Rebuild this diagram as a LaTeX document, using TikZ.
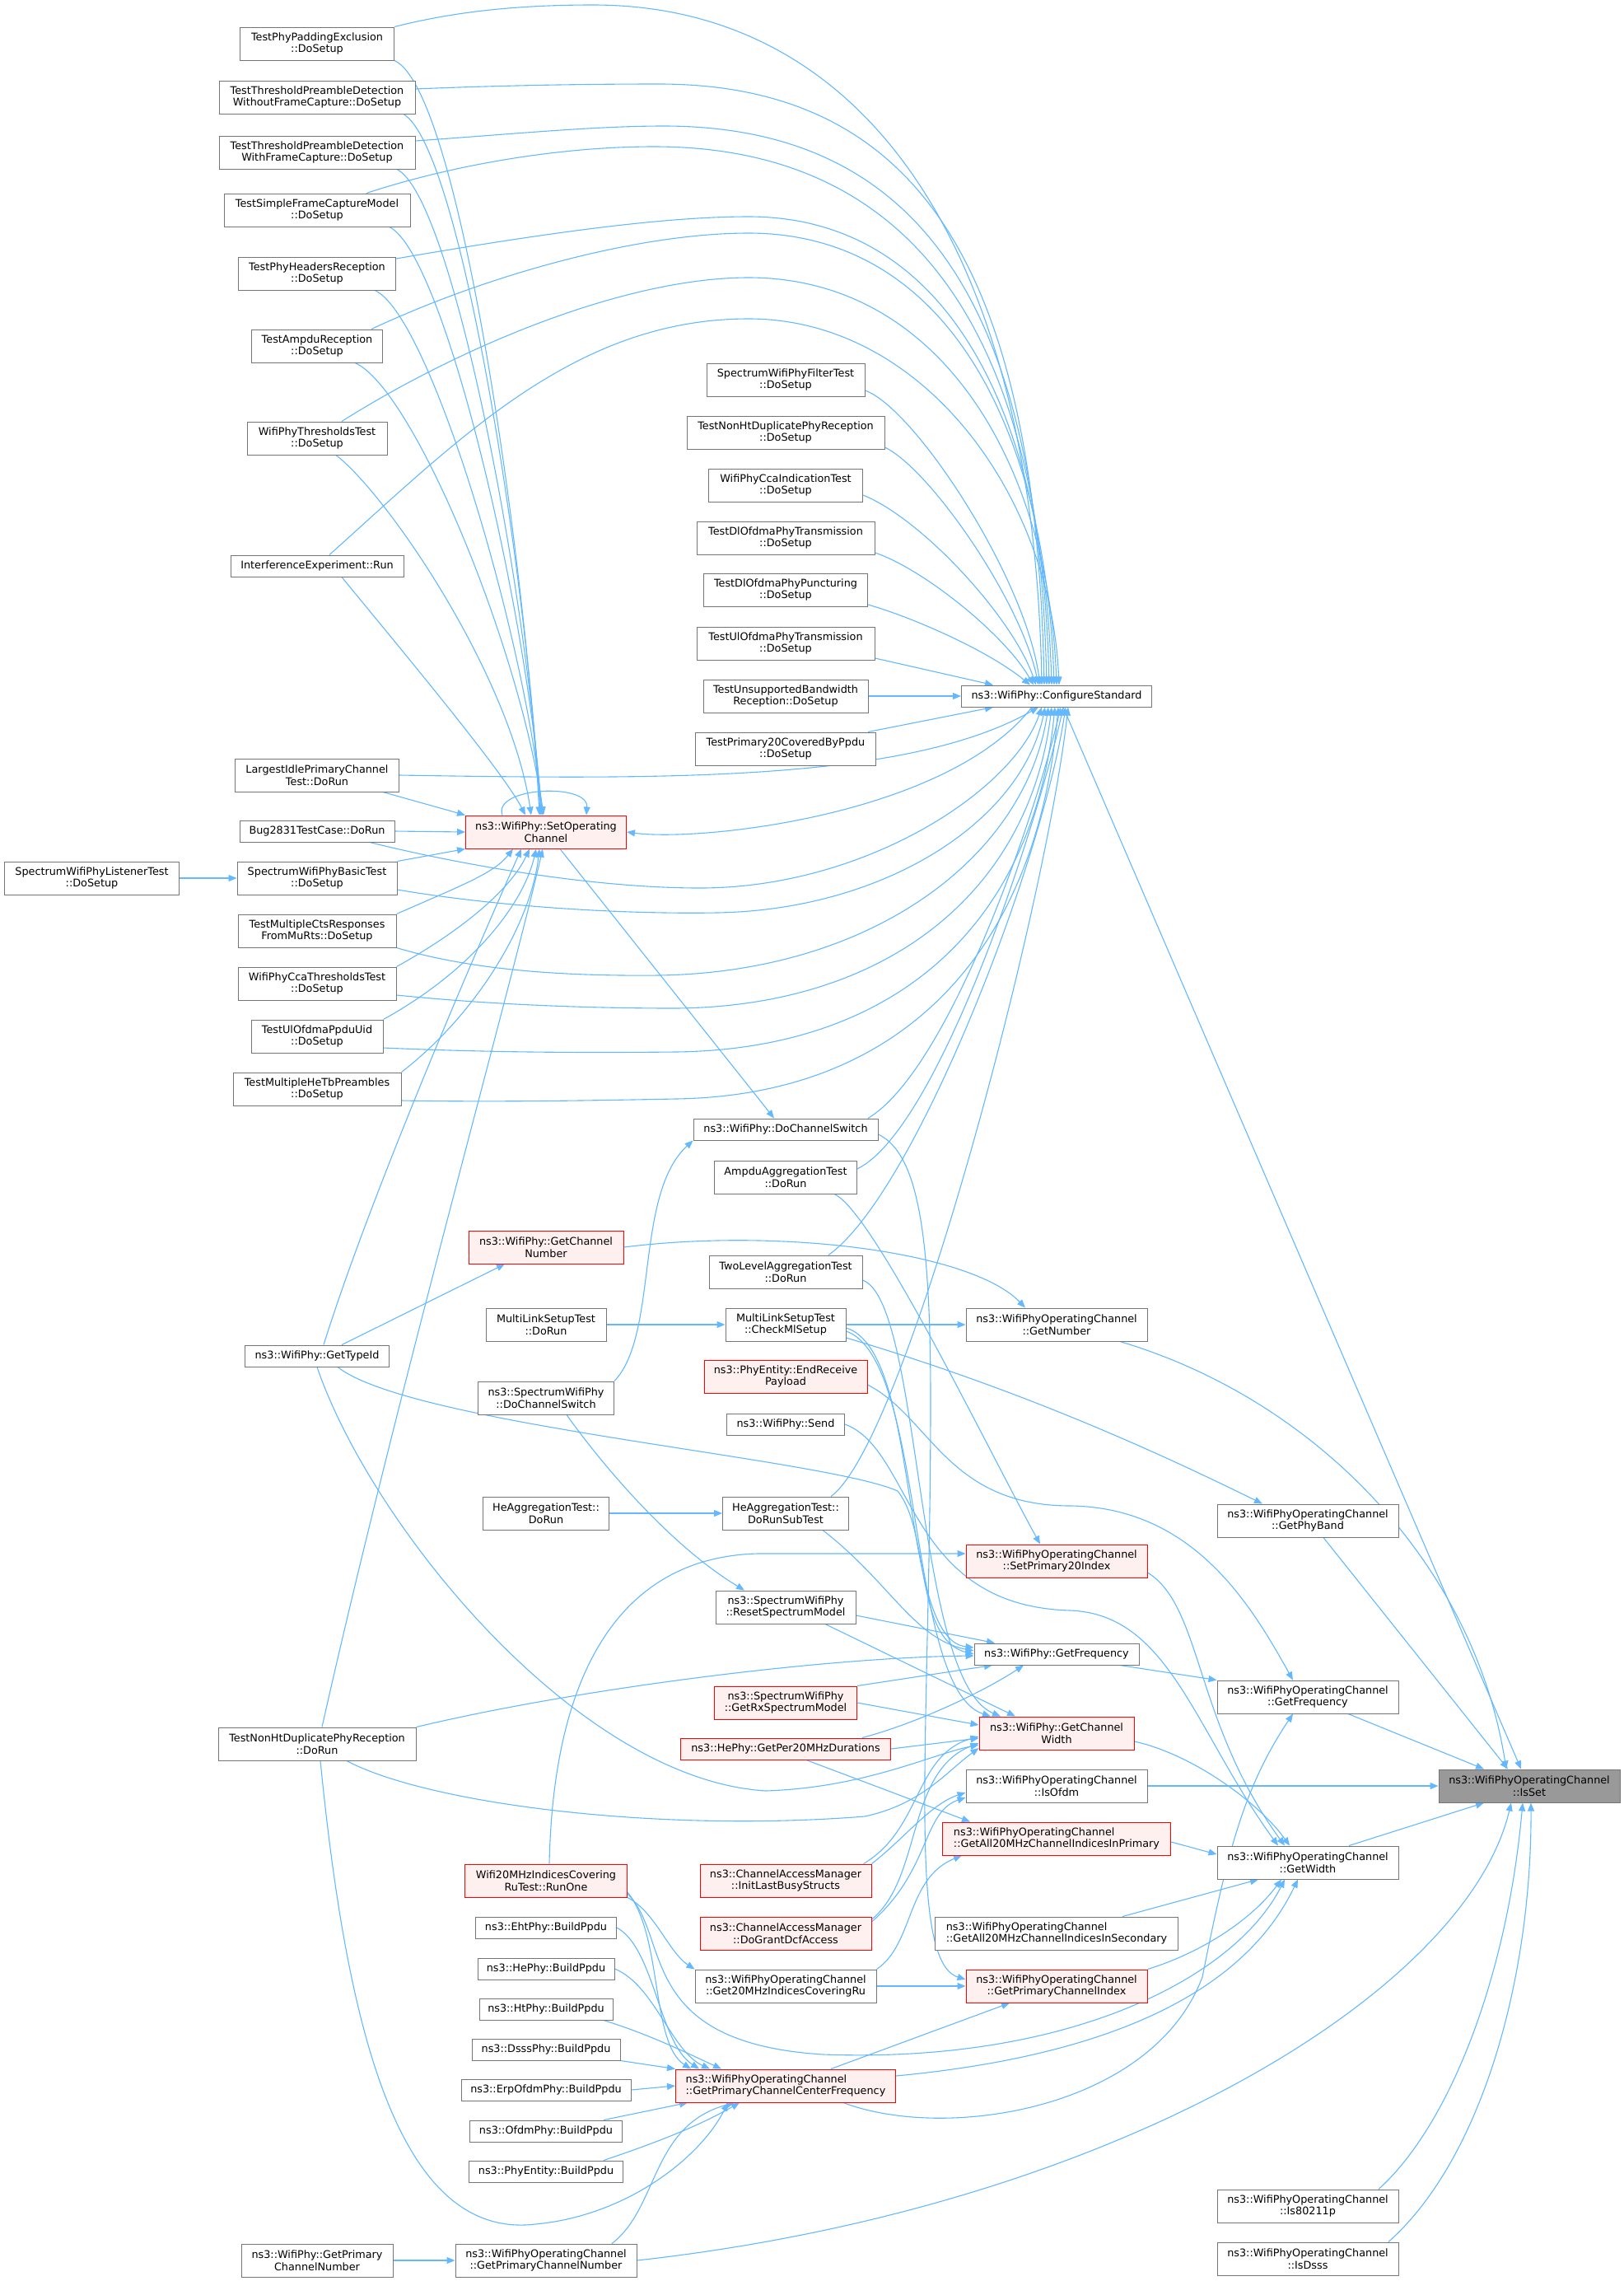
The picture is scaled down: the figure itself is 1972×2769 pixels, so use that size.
\documentclass[tikz,border=0pt]{standalone}
\usepackage{fontspec}
\setmainfont{DejaVu Sans}
\usetikzlibrary{arrows.meta}
\definecolor{edgeblue}{HTML}{63B8FF}
\definecolor{boxgray}{HTML}{757575}
\definecolor{redfill}{HTML}{FFF0F0}
\definecolor{selfill}{HTML}{999999}
\pgfdeclarelayer{bg}
\pgfsetlayers{bg,main}
\tikzset{
  fnbox/.style={draw=boxgray, line width=1pt, fill=white, align=center, minimum height=40pt, inner sep=2pt, font=\fontsize{12.8}{14.7}\selectfont},
  line1/.style={minimum height=26pt},
  fnred/.style={fnbox, draw=red, fill=redfill},
  fnsel/.style={fnbox, fill=selfill},
  call/.style={draw=edgeblue, line width=1.1pt, -{Triangle[length=10pt,width=8pt]}},
}
\begin{document}
\begin{tikzpicture}[x=1pt,y=-1pt]
\useasboundingbox (0,0) rectangle (1972,2769);
% column 1
\node[fnbox, minimum width=187pt] (pad) at (385,53) {TestPhyPaddingExclusion\\::DoSetup};
\node[fnbox, minimum width=238pt] (tpdwo) at (385,118) {TestThresholdPreambleDetection\\WithoutFrameCapture::DoSetup};
\node[fnbox, minimum width=238pt] (tpdw) at (385,185) {TestThresholdPreambleDetection\\WithFrameCapture::DoSetup};
\node[fnbox, minimum width=226pt] (sfc) at (385,255) {TestSimpleFrameCaptureModel\\::DoSetup};
\node[fnbox, minimum width=191pt] (phr) at (385,332) {TestPhyHeadersReception\\::DoSetup};
\node[fnbox, minimum width=159pt] (ampr) at (385,420) {TestAmpduReception\\::DoSetup};
\node[fnbox, minimum width=170pt] (thr) at (385,532) {WifiPhyThresholdsTest\\::DoSetup};
\node[fnbox, line1, minimum width=210pt] (intf) at (385,687) {InterferenceExperiment::Run};
\node[fnbox, minimum width=199pt] (lip) at (385,941) {LargestIdlePrimaryChannel\\Test::DoRun};
\node[fnbox, line1, minimum width=188pt] (bug) at (385,1009) {Bug2831TestCase::DoRun};
\node[fnbox, minimum width=212pt] (listener) at (111.5,1066) {SpectrumWifiPhyListenerTest\\::DoSetup};
\node[fnbox, minimum width=194pt] (basic) at (385,1066) {SpectrumWifiPhyBasicTest\\::DoSetup};
\node[fnbox, minimum width=192pt] (mcts) at (385,1130) {TestMultipleCtsResponses\\FromMuRts::DoSetup};
\node[fnbox, minimum width=192pt] (ccath) at (385,1194) {WifiPhyCcaThresholdsTest\\::DoSetup};
\node[fnbox, minimum width=160pt] (ppduid) at (385,1258) {TestUlOfdmaPpduUid\\::DoSetup};
\node[fnbox, minimum width=204pt] (hetb) at (385,1322) {TestMultipleHeTbPreambles\\::DoSetup};
\node[fnbox, line1, minimum width=175pt] (typeid) at (385,1646) {ns3::WifiPhy::GetTypeId};
\node[fnbox, minimum width=240pt] (nonhtrun) at (385,2117) {TestNonHtDuplicatePhyReception\\::DoRun};
\node[fnbox, minimum width=184pt] (phychnum) at (385,2744) {ns3::WifiPhy::GetPrimary\\ChannelNumber};
% column 2
\node[fnred, minimum width=195pt] (setop) at (663,1010) {ns3::WifiPhy::SetOperating\\Channel};
\node[fnred, minimum width=188pt] (getchnum) at (663,1514) {ns3::WifiPhy::GetChannel\\Number};
\node[fnbox, minimum width=146pt] (mlsrun) at (663,1608) {MultiLinkSetupTest\\::DoRun};
\node[fnbox, minimum width=165pt] (specsw) at (663,1697) {ns3::SpectrumWifiPhy\\::DoChannelSwitch};
\node[fnbox, minimum width=153pt] (herun) at (663,1837) {HeAggregationTest::\\DoRun};
\node[fnred, minimum width=197pt] (runone) at (663,2283) {Wifi20MHzIndicesCovering\\RuTest::RunOne};
\node[fnbox, line1, minimum width=171pt] (eht) at (663,2340) {ns3::EhtPhy::BuildPpdu};
\node[fnbox, line1, minimum width=166pt] (he) at (663,2390) {ns3::HePhy::BuildPpdu};
\node[fnbox, line1, minimum width=162pt] (ht) at (663,2439) {ns3::HtPhy::BuildPpdu};
\node[fnbox, line1, minimum width=180pt] (dsss) at (663,2488) {ns3::DsssPhy::BuildPpdu};
\node[fnbox, line1, minimum width=206pt] (erp) at (663,2537) {ns3::ErpOfdmPhy::BuildPpdu};
\node[fnbox, line1, minimum width=185pt] (ofdm) at (663,2587) {ns3::OfdmPhy::BuildPpdu};
\node[fnbox, line1, minimum width=187pt] (phyent) at (663,2636) {ns3::PhyEntity::BuildPpdu};
\node[fnbox, minimum width=220pt] (ocpchnum) at (663,2744) {ns3::WifiPhyOperatingChannel\\::GetPrimaryChannelNumber};
% column 3
\node[fnbox, minimum width=192pt] (filt) at (954,461) {SpectrumWifiPhyFilterTest\\::DoSetup};
\node[fnbox, minimum width=240pt] (nonhtset) at (954,525) {TestNonHtDuplicatePhyReception\\::DoSetup};
\node[fnbox, minimum width=187pt] (ccaind) at (954,589) {WifiPhyCcaIndicationTest\\::DoSetup};
\node[fnbox, minimum width=216pt] (dltx) at (954,653) {TestDlOfdmaPhyTransmission\\::DoSetup};
\node[fnbox, minimum width=199pt] (dlpunc) at (954,716) {TestDlOfdmaPhyPuncturing\\::DoSetup};
\node[fnbox, minimum width=216pt] (ultx) at (954,781) {TestUlOfdmaPhyTransmission\\::DoSetup};
\node[fnbox, minimum width=200pt] (unsup) at (954,845) {TestUnsupportedBandwidth\\Reception::DoSetup};
\node[fnbox, minimum width=219pt] (p20) at (954,909) {TestPrimary20CoveredByPpdu\\::DoSetup};
\node[fnbox, line1, minimum width=224pt] (dosw) at (954,1371) {ns3::WifiPhy::DoChannelSwitch};
\node[fnbox, minimum width=173pt] (ampdu) at (954,1429) {AmpduAggregationTest\\::DoRun};
\node[fnbox, minimum width=186pt] (twolev) at (954,1544) {TwoLevelAggregationTest\\::DoRun};
\node[fnbox, minimum width=146pt] (mlscheck) at (954,1608) {MultiLinkSetupTest\\::CheckMlSetup};
\node[fnred, minimum width=198pt] (endrx) at (954,1671) {ns3::PhyEntity::EndReceive\\Payload};
\node[fnbox, line1, minimum width=143pt] (send) at (954,1729) {ns3::WifiPhy::Send};
\node[fnbox, minimum width=153pt] (subtest) at (954,1837) {HeAggregationTest::\\DoRunSubTest};
\node[fnbox, minimum width=170pt] (reset) at (954,1951) {ns3::SpectrumWifiPhy\\::ResetSpectrumModel};
\node[fnred, minimum width=173pt] (rxsm) at (954,2067) {ns3::SpectrumWifiPhy\\::GetRxSpectrumModel};
\node[fnred, line1, minimum width=255pt] (per20) at (954,2123) {ns3::HePhy::GetPer20MHzDurations};
\node[fnred, minimum width=208pt] (initbusy) at (954,2283) {ns3::ChannelAccessManager\\::InitLastBusyStructs};
\node[fnred, minimum width=208pt] (grant) at (954,2347) {ns3::ChannelAccessManager\\::DoGrantDcfAccess};
\node[fnbox, minimum width=220pt] (cover) at (954,2411) {ns3::WifiPhyOperatingChannel\\::Get20MHzIndicesCoveringRu};
\node[fnred, align=left, minimum width=267pt] (pccf) at (954,2532) {ns3::WifiPhyOperatingChannel\\::GetPrimaryChannelCenterFrequency};
% column 4
\node[fnbox, line1, minimum width=231pt] (cfg) at (1283,845) {ns3::WifiPhy::ConfigureStandard};
\node[fnbox, minimum width=220pt] (getnum) at (1283,1608) {ns3::WifiPhyOperatingChannel\\::GetNumber};
\node[fnred, minimum width=220pt] (setp20) at (1283,1895) {ns3::WifiPhyOperatingChannel\\::SetPrimary20Index};
\node[fnbox, line1, minimum width=200pt] (phyfreq) at (1283,2008) {ns3::WifiPhy::GetFrequency};
\node[fnred, minimum width=188pt] (chwidth) at (1283,2104) {ns3::WifiPhy::GetChannel\\Width};
\node[fnbox, minimum width=220pt] (isofdm) at (1283,2168) {ns3::WifiPhyOperatingChannel\\::IsOfdm};
\node[fnred, align=left, minimum width=277pt] (all20p) at (1283,2232) {ns3::WifiPhyOperatingChannel\\::GetAll20MHzChannelIndicesInPrimary};
\node[fnbox, align=left, minimum width=295pt] (all20s) at (1283,2347) {ns3::WifiPhyOperatingChannel\\::GetAll20MHzChannelIndicesInSecondary};
\node[fnred, minimum width=220pt] (pidx) at (1283,2411) {ns3::WifiPhyOperatingChannel\\::GetPrimaryChannelIndex};
% column 5
\node[fnbox, minimum width=220pt] (phyband) at (1588,1846) {ns3::WifiPhyOperatingChannel\\::GetPhyBand};
\node[fnbox, minimum width=220pt] (ocfreq) at (1588,2060) {ns3::WifiPhyOperatingChannel\\::GetFrequency};
\node[fnbox, minimum width=220pt] (width) at (1588,2261) {ns3::WifiPhyOperatingChannel\\::GetWidth};
\node[fnbox, minimum width=220pt] (is80211p) at (1588,2678) {ns3::WifiPhyOperatingChannel\\::Is80211p};
\node[fnbox, minimum width=220pt] (isdsss) at (1588,2742) {ns3::WifiPhyOperatingChannel\\::IsDsss};
\node[fnsel, minimum width=220pt] (isset) at (1857,2168) {ns3::WifiPhyOperatingChannel\\::IsSet};

\begin{pgfonlayer}{bg}
% into ConfigureStandard, over the top
\draw[call] (pad.north east) .. controls (560,12) and (640,6) .. (720,6) .. controls (1050,6) and (1255,300) .. ([xshift=-18pt]cfg.north);
\draw[call] ([yshift=10pt]tpdwo.east) .. controls (600,104) and (700,102) .. (800,102) .. controls (1130,102) and (1258,350) .. ([xshift=-15pt]cfg.north);
\draw[call] ([yshift=14pt]tpdw.east) .. controls (620,163) and (720,153) .. (806,153) .. controls (1136,153) and (1261,400) .. ([xshift=-12pt]cfg.north);
\draw[call] ([xshift=60pt]sfc.north) .. controls (550,200) and (680,178) .. (794,178) .. controls (1120,178) and (1264,420) .. ([xshift=-9pt]cfg.north);
\draw[call] ([yshift=18pt]phr.east) .. controls (650,285) and (800,263) .. (909,263) .. controls (1150,263) and (1267,500) .. ([xshift=-6pt]cfg.north);
\draw[call] ([xshift=66pt]ampr.north) .. controls (600,330) and (780,283) .. (909,283) .. controls (1150,283) and (1270,520) .. ([xshift=-3pt]cfg.north);
\draw[call] ([xshift=30pt]thr.north) .. controls (560,420) and (760,337) .. (909,337) .. controls (1140,337) and (1273,560) .. (cfg.north);
\draw[call] ([xshift=15pt]intf.north) .. controls (560,530) and (700,387) .. (909,387) .. controls (1120,387) and (1276,600) .. ([xshift=3pt]cfg.north);
\draw[call] ([yshift=-13pt]filt.east) .. controls (1110,495) and (1245,700) .. ([xshift=-20pt]cfg.north);
\draw[call] ([yshift=-18pt]nonhtset.east) .. controls (1130,570) and (1240,730) .. ([xshift=-22pt]cfg.north);
\draw[call] ([yshift=-12pt]ccaind.east) .. controls (1120,630) and (1230,750) .. ([xshift=-25pt]cfg.north);
\draw[call] ([yshift=-18pt]dltx.east) .. controls (1120,690) and (1220,770) .. ([xshift=-28pt]cfg.north);
\draw[call] ([yshift=-18pt]dlpunc.east) .. controls (1110,750) and (1200,790) .. ([xshift=-32pt]cfg.north);
\draw[call] ([yshift=-18pt]ultx.east) -- ([xshift=-77pt]cfg.north);
\draw[call] (unsup.east) -- (cfg.west);
\draw[call] ([xshift=100pt]p20.north) -- ([xshift=-77pt]cfg.south);
% into ConfigureStandard, from below
\draw[call] (lip.east) .. controls (800,946) and (1100,950) .. ([xshift=-22pt]cfg.south);
\draw[call] ([xshift=64pt]bug.south) .. controls (560,1050) and (720,1078) .. (850,1078) .. controls (1050,1078) and (1230,960) .. ([xshift=-18pt]cfg.south);
\draw[call] ([yshift=-14pt]basic.east) .. controls (600,1100) and (750,1110) .. (870,1108) .. controls (1070,1105) and (1240,1000) .. ([xshift=-14pt]cfg.south);
\draw[call] (mcts.south east) .. controls (580,1180) and (700,1185) .. (800,1184) .. controls (1060,1180) and (1245,1040) .. ([xshift=-10pt]cfg.south);
\draw[call] ([yshift=-14pt]ccath.east) .. controls (600,1220) and (720,1224) .. (820,1224) .. controls (1080,1222) and (1250,1080) .. ([xshift=-6pt]cfg.south);
\draw[call] ([yshift=-14pt]ppduid.east) .. controls (600,1278) and (720,1278) .. (820,1277) .. controls (1090,1274) and (1255,1120) .. ([xshift=-2pt]cfg.south);
\draw[call] ([yshift=-14pt]hetb.east) .. controls (600,1338) and (720,1336) .. (820,1334) .. controls (1100,1330) and (1260,1150) .. ([xshift=2pt]cfg.south);
\draw[call] ([xshift=100pt]dosw.north) .. controls (1150,1300) and (1255,1000) .. ([xshift=5pt]cfg.south);
\draw[call] ([yshift=10pt]ampdu.east) .. controls (1140,1370) and (1260,1000) .. ([xshift=8pt]cfg.south);
\draw[call] ([xshift=52pt]twolev.north) .. controls (1110,1450) and (1265,1050) .. ([xshift=11pt]cfg.south);
\draw[call] ([xshift=55pt]subtest.north) .. controls (1100,1750) and (1270,1100) .. ([xshift=14pt]cfg.south);
% into SetOperatingChannel
\draw[call] (pad.south east) .. controls (560,110) and (640,700) .. ([xshift=-8pt]setop.north);
\draw[call] ([xshift=105pt]tpdwo.south) .. controls (560,180) and (640,700) .. ([xshift=-7pt]setop.north);
\draw[call] ([xshift=97pt]tpdw.south) .. controls (550,240) and (640,720) .. ([xshift=-6pt]setop.north);
\draw[call] ([xshift=88pt]sfc.south) .. controls (540,310) and (640,740) .. ([xshift=-5pt]setop.north);
\draw[call] ([xshift=70pt]phr.south) .. controls (520,380) and (635,760) .. ([xshift=-4pt]setop.north);
\draw[call] ([xshift=46pt]ampr.south) .. controls (500,470) and (630,780) .. ([xshift=-3pt]setop.north);
\draw[call] ([xshift=23pt]thr.south) .. controls (470,600) and (620,820) .. ([xshift=-18pt]setop.north);
\draw[call] ([xshift=30pt]intf.south) .. controls (480,780) and (610,935) .. ([xshift=-25pt]setop.north);
\draw[call] ([xshift=80pt]lip.south) -- (setop.north west);
\draw[call] (bug.east) -- (setop.west);
\draw[call] (basic.north east) -- (setop.south west);
\draw[call] (mcts.north east) .. controls (560,1075) and (600,1060) .. ([xshift=-40pt]setop.south);
\draw[call] (ccath.north east) .. controls (560,1130) and (620,1080) .. ([xshift=-20pt]setop.south);
\draw[call] (ppduid.north east) .. controls (570,1180) and (635,1100) .. ([xshift=-12pt]setop.south);
\draw[call] (hetb.north east) .. controls (580,1230) and (645,1120) .. ([xshift=-8pt]setop.south);
\draw[call] ([xshift=8pt]typeid.north) .. controls (450,1450) and (580,1150) .. ([xshift=-30pt]setop.south);
\draw[call] ([xshift=6pt]nonhtrun.north) .. controls (480,1700) and (620,1200) .. ([xshift=-4pt]setop.south);
\draw[call] ([xshift=-30pt]cfg.south) .. controls (1150,990) and (850,1022) .. (setop.east);
\draw[call] ([xshift=-53pt]setop.north) .. controls (598,955) and (715,950) .. ([xshift=49pt]setop.north);
\draw[call] ([xshift=17pt]setop.south) -- ([xshift=-14pt]dosw.north);
% short links
\draw[call] (listener.east) -- (basic.west);
\draw[call] (mlsrun.east) -- (mlscheck.west);
\draw[call] (herun.east) -- (subtest.west);
\draw[call] (phychnum.east) -- (ocpchnum.west);
\draw[call] (specsw.north east) .. controls (800,1620) and (770,1450) .. (dosw.south west);
\draw[call] ([xshift=25pt]specsw.south) .. controls (740,1790) and (820,1880) .. ([xshift=-50pt]reset.north);
\draw[call] (getchnum.east) .. controls (950,1490) and (1180,1520) .. ([xshift=-38pt]getnum.north);
\draw[call] ([xshift=30pt]typeid.north) -- ([xshift=-50pt]getchnum.south);
\draw[call] (typeid.south) .. controls (450,1850) and (700,2160) .. (930,2174) .. controls (1050,2170) and (1130,2130) .. ([yshift=-14pt]chwidth.west);
\draw[call] ([xshift=25pt]typeid.south) .. controls (500,1730) and (1000,1770) .. (1090,1810) .. controls (1130,1860) and (1110,1990) .. (phyfreq.west);
\draw[call] (nonhtrun.north east) .. controls (700,2050) and (1000,2012) .. ([yshift=-2pt]phyfreq.west);
\draw[call] ([xshift=36pt]nonhtrun.south) .. controls (520,2190) and (800,2225) .. (1050,2205) .. controls (1120,2190) and (1150,2150) .. ([yshift=-18pt]chwidth.west);
\draw[call] ([xshift=4pt]nonhtrun.south) .. controls (420,2450) and (480,2720) .. (650,2700) .. controls (760,2690) and (850,2620) .. ([xshift=-70pt]pccf.south);
\draw[call] ([xshift=80pt]ocpchnum.north) .. controls (800,2680) and (790,2580) .. ([xshift=-62pt]pccf.south);
\draw[call] (ocpchnum.east) .. controls (1350,2680) and (1780,2420) .. ([xshift=-22pt]isset.south);
% BuildPpdu callers
\draw[call] (eht.east) .. controls (795,2365) and (800,2480) .. ([xshift=-105pt]pccf.north);
\draw[call] (he.east) .. controls (795,2410) and (815,2490) .. ([xshift=-92pt]pccf.north);
\draw[call] ([xshift=70pt]ht.south) .. controls (790,2470) and (840,2495) .. ([xshift=-78pt]pccf.north);
\draw[call] (dsss.south east) -- (pccf.north west);
\draw[call] (erp.east) -- (pccf.west);
\draw[call] ([xshift=70pt]ofdm.north) -- ([xshift=-119pt]pccf.south);
\draw[call] ([xshift=70pt]phyent.north) .. controls (800,2600) and (850,2580) .. ([xshift=-56pt]pccf.south);
% RunOne
\draw[call] (runone.south east) .. controls (795,2320) and (812,2370) .. (cover.north west);
\draw[call] ([yshift=-14pt]runone.east) .. controls (805,2350) and (790,2480) .. ([xshift=-115pt]pccf.north);
\draw[call] ([yshift=-16pt]runone.east) .. controls (815,2350) and (770,2480) .. (1000,2494) .. controls (1300,2505) and (1500,2400) .. ([xshift=-28pt]width.south);
\draw[call] ([xshift=4pt]runone.north) .. controls (672,2020) and (760,1890) .. (920,1886) -- ([yshift=9pt]setp20.west);
% middle callers
\draw[call] (cover.east) -- (pidx.west);
\draw[call] (cover.north east) .. controls (1110,2360) and (1100,2280) .. ([xshift=-115pt]all20p.south);
\draw[call] ([xshift=25pt]per20.south) -- ([xshift=-105pt]all20p.north);
\draw[call] (per20.east) -- ([yshift=-6pt]chwidth.west);
\draw[call] ([xshift=93pt]per20.north) .. controls (1120,2090) and (1200,2050) .. ([xshift=-40pt]phyfreq.south);
\draw[call] (rxsm.north east) -- ([xshift=-78pt]phyfreq.south);
\draw[call] (rxsm.east) -- ([yshift=10pt]chwidth.west);
\draw[call] ([yshift=-10pt]reset.east) -- ([xshift=-75pt]phyfreq.north);
\draw[call] ([xshift=48pt]reset.south) -- ([xshift=-50pt]chwidth.north);
\draw[call] (initbusy.north east) .. controls (1100,2230) and (1130,2190) .. ([yshift=-8pt]isofdm.west);
\draw[call] ([xshift=-10pt]initbusy.north east) .. controls (1120,2220) and (1110,2130) .. ([yshift=-4pt]chwidth.west);
\draw[call] ([yshift=14pt]grant.east) .. controls (1130,2270) and (1120,2200) .. ([yshift=-14pt]isofdm.west);
\draw[call] ([yshift=17pt]grant.east) .. controls (1120,2280) and (1100,2150) .. ([yshift=-12pt]chwidth.west);
\draw[call] (mlscheck.east) -- (getnum.west);
\draw[call] ([yshift=-16pt]mlscheck.east) .. controls (1250,1690) and (1420,1770) .. ([xshift=-55pt]phyband.north);
\draw[call] ([yshift=-4pt]mlscheck.east) .. controls (1120,1640) and (1090,1990) .. ([yshift=8pt]phyfreq.west);
\draw[call] ([yshift=-8pt]mlscheck.east) .. controls (1125,1650) and (1100,2050) .. ([xshift=-80pt]chwidth.north);
\draw[call] ([yshift=-10pt]twolev.east) .. controls (1120,1580) and (1110,2040) .. ([xshift=-68pt]chwidth.north);
\draw[call] ([xshift=45pt]subtest.south) .. controls (1080,1920) and (1110,1990) .. ([yshift=4pt]phyfreq.west);
\draw[call] ([yshift=-6pt]dosw.east) .. controls (1115,1400) and (1130,1500) .. (1130,1700) .. controls (1130,2100) and (1100,2380) .. ([yshift=8pt]pidx.west);
\draw[call] ([xshift=59pt]ampdu.south) .. controls (1060,1470) and (1200,1760) .. ([xshift=-20pt]setp20.north);
\draw[call] ([yshift=-10pt]endrx.east) .. controls (1130,1720) and (1150,1828) .. (1300,1828) .. controls (1450,1830) and (1520,1950) .. ([xshift=-18pt]ocfreq.north);
\draw[call] (send.east) .. controls (1110,1760) and (1100,1950) .. (1300,1955) .. controls (1420,1960) and (1450,2100) .. ([xshift=-36pt]width.north);
% operating channel
\draw[call] ([xshift=77pt]phyfreq.south) -- (ocfreq.north west);
\draw[call] ([yshift=-10pt]chwidth.east) .. controls (1450,2130) and (1530,2190) .. ([xshift=-22pt]width.north);
\draw[call] ([yshift=-14pt]setp20.east) .. controls (1460,1950) and (1450,2090) .. ([xshift=-28pt]width.north);
\draw[call] ([yshift=-4pt]all20p.east) -- ([yshift=10pt]width.west);
\draw[call] ([xshift=80pt]all20s.north) -- ([xshift=-60pt]width.south);
\draw[call] (pidx.north east) .. controls (1460,2370) and (1520,2330) .. ([xshift=-32pt]width.south);
\draw[call] ([yshift=12pt]pccf.east) .. controls (1300,2500) and (1500,2440) .. ([xshift=-12pt]width.south);
\draw[call] ([xshift=55pt]pccf.north) -- ([xshift=-57pt]pidx.south);
\draw[call] ([xshift=70pt]pccf.south) .. controls (1150,2600) and (1400,2560) .. (1460,2400) .. controls (1490,2250) and (1510,2170) .. ([xshift=-18pt]ocfreq.south);
% into IsSet
\draw[call] ([xshift=8pt]cfg.south) -- ([xshift=-10pt]isset.north);
\draw[call] ([xshift=77pt]getnum.south) .. controls (1600,1700) and (1790,1900) .. ([xshift=-28pt]isset.north);
\draw[call] ([xshift=19pt]phyband.south) -- ([xshift=-26pt]isset.north);
\draw[call] ([xshift=49pt]ocfreq.south) -- ([xshift=-55pt]isset.north);
\draw[call] (isofdm.east) -- (isset.west);
\draw[call] ([xshift=50pt]width.north) -- ([xshift=-55pt]isset.south);
\draw[call] ([xshift=86pt]is80211p.north) .. controls (1760,2580) and (1830,2400) .. ([xshift=-8pt]isset.south);
\draw[call] ([xshift=98pt]isdsss.north) .. controls (1800,2620) and (1860,2400) .. ([xshift=2pt]isset.south);
\end{pgfonlayer}
\end{tikzpicture}
\end{document}
